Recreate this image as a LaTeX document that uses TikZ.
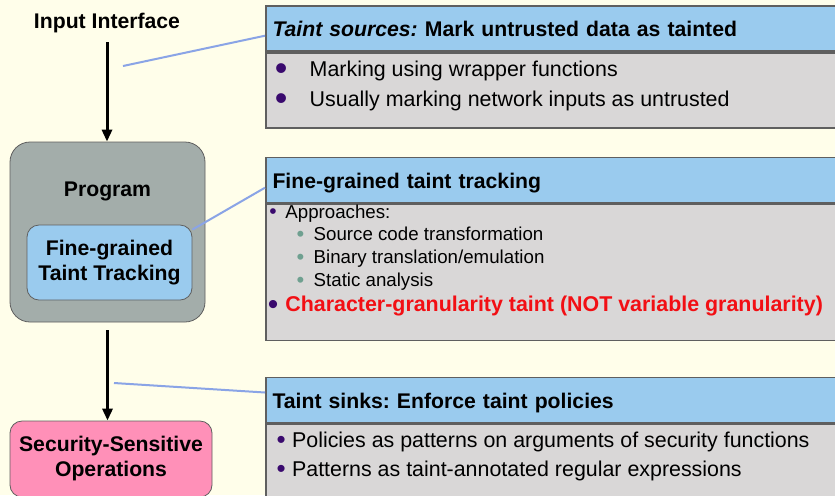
\documentclass[tikz,border=0pt]{standalone}
\usepackage{fontspec}
\setmainfont{Liberation Sans}
\usetikzlibrary{arrows.meta,positioning,calc}
\definecolor{tkCream}{HTML}{FFFEEA}
\definecolor{tkBlue}{HTML}{9ACBEE}
\definecolor{tkGray}{HTML}{D9D7D7}
\definecolor{tkLine}{HTML}{5F5F5F}
\definecolor{tkProg}{HTML}{A3ADAA}
\definecolor{tkPink}{HTML}{FF90B8}
\definecolor{tkLink}{HTML}{8AA4E6}
\definecolor{tkPurple}{HTML}{3A0A6E}
\definecolor{tkTeal}{HTML}{6FA090}
\definecolor{tkRed}{HTML}{F20F14}
% bullet: [raise], size, colour, gap to the text
\newcommand{\bul}[4][0pt]{\llap{\raisebox{#1}{\textcolor{#3}{\fontsize{#2}{#2}\selectfont\textbullet}}\hspace{#4}}}
\frenchspacing

\begin{document}
\begin{tikzpicture}[x=0.5pt,y=-0.5pt,
  lbl/.style={font=\fontsize{10.6}{12.5}\selectfont\bfseries,align=center,inner sep=0pt},
  prog/.style={draw=tkLine,fill=tkProg,rounded corners=10pt,minimum width=97.5pt,minimum height=90pt},
  inbox/.style={lbl,draw=tkLine,fill=tkBlue,rounded corners=6pt,minimum width=82.5pt,minimum height=37.5pt},
  sec/.style={lbl,draw=tkLine,fill=tkPink,rounded corners=6pt,minimum width=101pt,minimum height=38pt},
  hdr/.style={draw=tkLine,line width=0.8pt,fill=tkBlue,anchor=north west,minimum width=302pt,minimum height=22.7pt,text width=295.3pt,inner xsep=3.35pt,align=left,text height=8.2pt,text depth=0pt,font=\fontsize{10.6}{12.5}\selectfont\bfseries},
  body/.style={draw=tkLine,line width=0.8pt,fill=tkGray,anchor=north west,minimum width=302pt},
  item/.style={anchor=base west,inner sep=0pt,font=\fontsize{10.7}{12.8}\selectfont},
  subitem/.style={item,font=\fontsize{9.35}{11.2}\selectfont},
  flow/.style={-{Triangle[length=6pt,width=5pt]},line width=1.5pt},
  link/.style={tkLink,line width=1pt}
]
  \useasboundingbox (0,0) rectangle (835,495);
  \clip (0,0) rectangle (835,495);
  \fill[tkCream] (0,0) rectangle (835,495);

  % left column
  \node[lbl] (input) at (107,23) {Input Interface};
  \node[prog] (prog) at (107.5,232) {};
  \node[lbl] (progl) at (107.5,191) {Program};
  \node[inbox] (ftt) at (109.5,262.5) {Fine-grained\\Taint Tracking};
  \node[sec] (ssop) at (111,459) {Security-Sensitive\\Operations};
  \draw[flow,shorten <=4.5pt] (input) -- (input |- prog.north);
  \draw[flow,shorten <=4pt] (prog) -- (prog |- ssop.north);

  % taint sources
  \node[hdr] (srchd) at (265,5) {\textit{Taint sources:} Mark untrusted data as tainted};
  \node[body,minimum height=37.65pt] (srcbd) at (srchd.south west) {};
  \node[item] (src1) at (309.3,76) {\bul[-2pt]{18}{tkPurple}{11.15pt}Marking using wrapper functions};
  \node[item] (src2) at (309.3,106.7) {\bul[-2pt]{18}{tkPurple}{11.15pt}Usually marking network inputs as untrusted};

  % tracking
  \node[hdr] (trkhd) at (265,156.7) {Fine-grained taint tracking};
  \node[body,minimum height=68pt] (trkbd) at (trkhd.south west) {};
  \node[subitem] (trk1) at (285,218.3) {\bul{10.5}{tkPurple}{4.3pt}Approaches:};
  \node[subitem] (trk2) at (313.3,240.7) {\bul[-0.6pt]{11}{tkTeal}{4.7pt}Source code transformation};
  \node[subitem] (trk3) at (313.3,263.3) {\bul[-0.6pt]{11}{tkTeal}{4.7pt}Binary translation/emulation};
  \node[subitem] (trk4) at (313.3,286.7) {\bul[-0.6pt]{11}{tkTeal}{4.7pt}Static analysis};
  \node[item] (trk5) at (285,311.7) {\bul[-1.2pt]{15}{tkPurple}{3.5pt}\textcolor{tkRed}{\bfseries Character-granularity taint (NOT variable granularity)}};

  % sinks
  \node[hdr] (snkhd) at (265,376.7) {Taint sinks: Enforce taint policies};
  \node[body,minimum height=50pt] (snkbd) at (snkhd.south west) {};
  \node[item] (snk1) at (291.7,447.3) {\bul[-0.6pt]{13}{tkPurple}{3.2pt}Policies as patterns on arguments of security functions};
  \node[item] (snk2) at (291.7,476.7) {\bul[-0.6pt]{13}{tkPurple}{3.2pt}Patterns as taint-annotated regular expressions};

  % links
  \coordinate (srcpt) at (123,66);
  \coordinate (snkpt) at (114,383);
  \draw[link] (srcpt) -- ([yshift=-3.6pt]srchd.west);
  \draw[link] ([yshift=-2.5pt]ftt.north east) -- ([yshift=-3.75pt]trkhd.west);
  \draw[link] (snkpt) -- ([yshift=3.85pt]snkhd.west);
\end{tikzpicture}
\end{document}
